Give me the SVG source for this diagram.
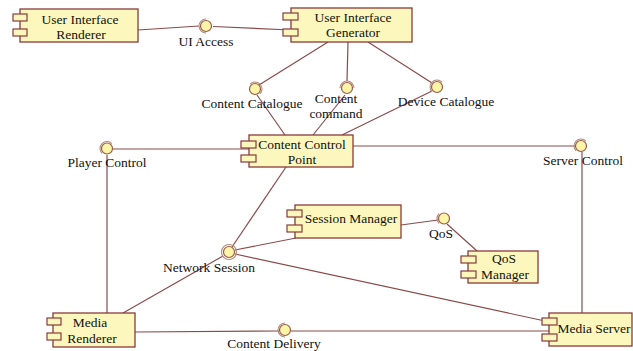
<svg xmlns="http://www.w3.org/2000/svg" width="633" height="351" viewBox="0 0 633 351">
  <style>
    .box { fill: #fcf8bd; stroke: #8a3a3a; stroke-width: 1.3; }
    .tab { fill: #fcf8bd; stroke: #8a3a3a; stroke-width: 1.2; }
    .ball { fill: #fcf5a8; stroke: #9a5a4a; stroke-width: 1.2; }
    .socket { fill: none; stroke: #b08a7a; stroke-width: 1.1; }
    .conn line { stroke: #8b4b4b; stroke-width: 1.2; fill: none; }
    text { font-family: "Liberation Serif", "Times New Roman", serif; font-size: 13.5px; fill: #111; text-anchor: middle; }
  </style>
  <rect width="633" height="351" fill="#ffffff"/>

  <!-- connectors -->
  <g id="connectors" class="conn">
    <line x1="138" y1="30" x2="199" y2="26"/>
    <line x1="213" y1="26.5" x2="291" y2="30"/>
    <line x1="328" y1="42" x2="259" y2="85"/>
    <line x1="257" y1="95" x2="285" y2="135"/>
    <line x1="348" y1="42" x2="347" y2="81"/>
    <line x1="345" y1="95" x2="313" y2="135"/>
    <line x1="368" y1="42" x2="432" y2="83"/>
    <line x1="432" y1="91" x2="342" y2="135"/>
    <line x1="249" y1="149" x2="113" y2="149"/>
    <line x1="107" y1="155" x2="107" y2="313"/>
    <line x1="353" y1="146" x2="575" y2="146"/>
    <line x1="582" y1="152" x2="582" y2="313"/>
    <line x1="286" y1="167" x2="232" y2="247"/>
    <line x1="235" y1="250" x2="296" y2="238"/>
    <line x1="223" y1="256" x2="123" y2="313"/>
    <line x1="235" y1="254" x2="545" y2="321"/>
    <line x1="401" y1="225" x2="438" y2="220"/>
    <line x1="447" y1="224" x2="477" y2="251"/>
    <line x1="135" y1="332" x2="279" y2="331"/>
    <line x1="291" y1="331" x2="549" y2="331"/>
  </g>

  <!-- provided interfaces (ball) with required sockets -->
  <g id="if-ui-access">
    <circle class="ball" cx="206" cy="26" r="5.5"/>
    <path class="socket" d="M206,19 A7,7 0 0 0 206,33"/>
    <text x="206" y="46">UI Access</text>
  </g>
  <g id="if-content-catalogue">
    <circle class="ball" cx="255" cy="89" r="5.5"/>
    <path class="socket" d="M250.05,84.05 A7,7 0 0 1 259.95,93.95"/>
    <text x="252" y="108">Content Catalogue</text>
  </g>
  <g id="if-content-command">
    <circle class="ball" cx="347" cy="88" r="5.5"/>
    <path class="socket" d="M340,88 A7,7 0 0 1 354,88"/>
    <text x="336" y="103">Content</text>
    <text x="336" y="118">command</text>
  </g>
  <g id="if-device-catalogue">
    <circle class="ball" cx="437" cy="87" r="5.5"/>
    <path class="socket" d="M432.05,91.95 A7,7 0 0 1 441.95,82.05"/>
    <text x="446" y="106">Device Catalogue</text>
  </g>
  <g id="if-player-control">
    <circle class="ball" cx="107" cy="148.5" r="5.5"/>
    <path class="socket" d="M102.05,153.45 A7,7 0 0 1 111.95,143.55"/>
    <text x="107" y="167">Player Control</text>
  </g>
  <g id="if-server-control">
    <circle class="ball" cx="581" cy="146" r="5.5"/>
    <path class="socket" d="M576.05,150.95 A7,7 0 0 1 585.95,141.05"/>
    <text x="583" y="165">Server Control</text>
  </g>
  <g id="if-network-session">
    <circle class="socket" cx="229" cy="252" r="7.5"/>
    <circle class="ball" cx="229" cy="252" r="5.5"/>
    <text x="209" y="272">Network Session</text>
  </g>
  <g id="if-qos">
    <circle class="ball" cx="444" cy="218.5" r="5.5"/>
    <path class="socket" d="M439.05,223.45 A7,7 0 0 1 439.05,213.55"/>
    <text x="441" y="238">QoS</text>
  </g>
  <g id="if-content-delivery">
    <circle class="ball" cx="285" cy="330" r="5.5"/>
    <path class="socket" d="M285,337 A7,7 0 0 1 285,323"/>
    <text x="274" y="348">Content Delivery</text>
  </g>

  <!-- components -->
  <g id="user-interface-renderer">
    <rect class="box" x="20" y="9" width="118" height="33"/>
    <rect class="tab" x="13" y="14" width="14" height="7"/>
    <rect class="tab" x="13" y="29" width="14" height="7"/>
    <text x="80" y="24">User Interface</text>
    <text x="81" y="39">Renderer</text>
  </g>
  <g id="user-interface-generator">
    <rect class="box" x="291" y="8" width="121" height="34"/>
    <rect class="tab" x="283" y="13" width="15" height="7"/>
    <rect class="tab" x="283" y="29" width="15" height="7"/>
    <text x="353" y="22">User Interface</text>
    <text x="353" y="37">Generator</text>
  </g>
  <g id="content-control-point">
    <rect class="box" x="249" y="135" width="104" height="32"/>
    <rect class="tab" x="241" y="141" width="15" height="7"/>
    <rect class="tab" x="241" y="155" width="15" height="7"/>
    <text x="302" y="149">Content Control</text>
    <text x="302" y="164">Point</text>
  </g>
  <g id="session-manager">
    <rect class="box" x="295" y="205" width="106" height="33"/>
    <rect class="tab" x="287" y="210" width="15" height="7"/>
    <rect class="tab" x="287" y="225" width="15" height="7"/>
    <text x="351" y="223">Session Manager</text>
  </g>
  <g id="qos-manager">
    <rect class="box" x="468" y="251" width="70" height="32"/>
    <rect class="tab" x="461" y="256" width="15" height="7"/>
    <rect class="tab" x="461" y="271" width="15" height="7"/>
    <text x="504" y="263">QoS</text>
    <text x="505" y="279">Manager</text>
  </g>
  <g id="media-renderer">
    <rect class="box" x="53" y="313" width="82" height="34"/>
    <rect class="tab" x="47" y="318" width="14" height="7"/>
    <rect class="tab" x="47" y="333" width="14" height="7"/>
    <text x="90" y="327">Media</text>
    <text x="92" y="343">Renderer</text>
  </g>
  <g id="media-server">
    <rect class="box" x="549" y="313" width="83" height="33"/>
    <rect class="tab" x="542" y="318" width="15" height="7"/>
    <rect class="tab" x="542" y="334" width="15" height="7"/>
    <text x="594" y="333">Media Server</text>
  </g>
</svg>
